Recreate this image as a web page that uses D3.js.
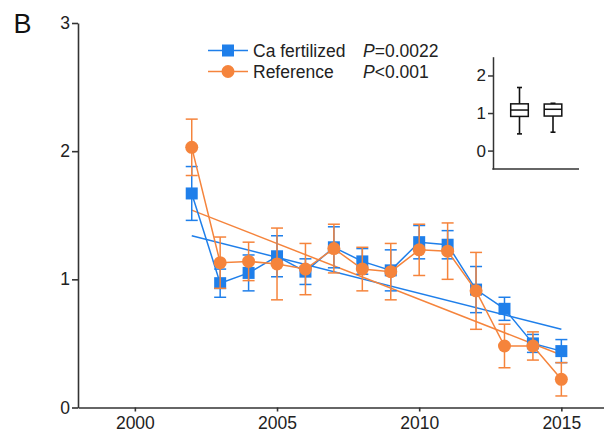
<!DOCTYPE html>
<html><head><meta charset="utf-8">
<script src="https://cdn.jsdelivr.net/npm/d3@7/dist/d3.min.js"></script>
<style>body{margin:0;background:#fff}svg{display:block}</style>
</head><body>
<script>
const years = [2002,2003,2004,2005,2006,2007,2008,2009,2010,2011,2012,2013,2014,2015];
const caMean = [1.67,0.97,1.05,1.18,1.06,1.25,1.14,1.07,1.29,1.27,0.92,0.77,0.50,0.44];
const caErr  = [0.21,0.11,0.14,0.16,0.10,0.16,0.10,0.16,0.13,0.11,0.18,0.09,0.07,0.09];
const refMean = [2.03,1.13,1.14,1.12,1.08,1.24,1.08,1.06,1.23,1.22,0.91,0.48,0.48,0.22];
const refErr  = [0.22,0.20,0.15,0.28,0.20,0.19,0.17,0.22,0.20,0.22,0.30,0.17,0.11,0.13];
const caFit = [1.34, 0.61];   // regression at 2002 and 2015
const refFit = [1.54, 0.41];
const seriesNames = ["Ca fertilized","Reference"];
const pLabels = ["=0.0022","<0.001"];
const xTicks = [2000,2005,2010,2015];
const yTicks = [0,1,2,3];
const insetTicks = [0,1,2];
// box stats: [whiskerLow, q1, median, q3, whiskerHigh]
const caBox = [0.445,0.91,1.08,1.245,1.68];
const refBox = [0.49,0.92,1.10,1.24,1.26];

const W=604,H=433;
const blue="#1f7fea", orange="#f5843c", axisCol="#333";
const font="'Liberation Sans', Arial, sans-serif";
const svg=d3.select("body").append("svg").attr("width",W).attr("height",H)
  .style("font-family",font);

const x=d3.scaleLinear().domain([1998,2016.5]).range([78,604]);
const y=d3.scaleLinear().domain([0,3]).range([407.5,23]);

// axes
const xa=svg.append("g").attr("transform",`translate(0,${y(0)})`)
  .call(d3.axisBottom(x).tickValues(xTicks).tickFormat(d3.format("d")).tickSize(4).tickPadding(5).tickSizeOuter(0));
const ya=svg.append("g").attr("transform",`translate(${x(1998)},0)`)
  .call(d3.axisLeft(y).tickValues(yTicks).tickFormat(d3.format("d")).tickSize(6).tickPadding(2).tickSizeOuter(0));
[xa,ya].forEach(g=>{
  g.selectAll("path,line").attr("stroke",axisCol).attr("stroke-width",1.6);
  g.selectAll("text").attr("font-size",17.5).attr("fill","#222").style("font-family",font);
});

svg.append("text").attr("x",13.5).attr("y",33).attr("font-size",27).attr("fill","#111").text("B");

// regression lines
function fit(vals,col){
  svg.append("line").attr("x1",x(years[0])).attr("y1",y(vals[0]))
    .attr("x2",x(years[years.length-1])).attr("y2",y(vals[1]))
    .attr("stroke",col).attr("stroke-width",1.5);
}
fit(caFit,blue); fit(refFit,orange);

function series(mean,err,col,marker){
  const g=svg.append("g");
  const cap=6;
  years.forEach((yr,i)=>{
    const cx=x(yr);
    g.append("line").attr("x1",cx).attr("x2",cx).attr("y1",y(mean[i]-err[i])).attr("y2",y(mean[i]+err[i]))
      .attr("stroke",col).attr("stroke-width",1.5);
    [mean[i]-err[i],mean[i]+err[i]].forEach(v=>{
      g.append("line").attr("x1",cx-cap).attr("x2",cx+cap).attr("y1",y(v)).attr("y2",y(v))
        .attr("stroke",col).attr("stroke-width",1.5);
    });
  });
  g.append("path").datum(years.map((yr,i)=>[yr,mean[i]]))
    .attr("d",d3.line().x(d=>x(d[0])).y(d=>y(d[1])))
    .attr("fill","none").attr("stroke",col).attr("stroke-width",1.5);
  years.forEach((yr,i)=>{
    if(marker==="square"){
      g.append("rect").attr("x",x(yr)-6).attr("y",y(mean[i])-6).attr("width",12).attr("height",12).attr("fill",col);
    } else {
      g.append("circle").attr("cx",x(yr)).attr("cy",y(mean[i])).attr("r",6.5).attr("fill",col);
    }
  });
}
series(caMean,caErr,blue,"square");
series(refMean,refErr,orange,"circle");

// legend
const legRows=[{col:blue,m:"square",yy:50.5},{col:orange,m:"circle",yy:71.5}];
legRows.forEach((r,i)=>{
  svg.append("line").attr("x1",208).attr("x2",248).attr("y1",r.yy).attr("y2",r.yy).attr("stroke",r.col).attr("stroke-width",1.5);
  if(r.m==="square") svg.append("rect").attr("x",228-6).attr("y",r.yy-6).attr("width",12).attr("height",12).attr("fill",r.col);
  else svg.append("circle").attr("cx",228).attr("cy",r.yy).attr("r",6.5).attr("fill",r.col);
  svg.append("text").attr("x",253).attr("y",r.yy+6.3).attr("font-size",17.5).attr("fill","#222").text(seriesNames[i]);
  const t=svg.append("text").attr("x",363).attr("y",r.yy+6.3).attr("font-size",17.5).attr("fill","#222");
  t.append("tspan").attr("font-style","italic").text("P");
  t.append("tspan").text(pLabels[i]);
});

// inset
const iy=d3.scaleLinear().domain([-0.49,2.5]).range([169,56.7]);
const ixc=d3.scaleLinear().domain([0,1]).range([519.5,553]);
const ig=svg.append("g");
const iya=ig.append("g").attr("transform","translate(493,0)")
  .call(d3.axisLeft(iy).tickValues(insetTicks).tickFormat(d3.format("d")).tickSize(5).tickPadding(2).tickSizeOuter(0));
iya.selectAll("path,line").attr("stroke",axisCol).attr("stroke-width",1.5);
iya.selectAll("text").attr("font-size",17).attr("fill","#222").style("font-family",font);
ig.append("line").attr("x1",492.3).attr("x2",579).attr("y1",iy(-0.49)).attr("y2",iy(-0.49)).attr("stroke",axisCol).attr("stroke-width",1.5);
[caBox,refBox].forEach((b,i)=>{
  const cx=ixc(i), hw=8.8, cw=2.5;
  const s="#111";
  ig.append("line").attr("x1",cx).attr("x2",cx).attr("y1",iy(b[0])).attr("y2",iy(b[4])).attr("stroke",s).attr("stroke-width",1.6);
  [b[0],b[4]].forEach(v=>ig.append("line").attr("x1",cx-cw).attr("x2",cx+cw).attr("y1",iy(v)).attr("y2",iy(v)).attr("stroke",s).attr("stroke-width",1.6));
  ig.append("rect").attr("x",cx-hw).attr("y",iy(b[3])).attr("width",2*hw).attr("height",iy(b[1])-iy(b[3]))
    .attr("fill","#fff").attr("stroke",s).attr("stroke-width",1.5);
  ig.append("line").attr("x1",cx-hw).attr("x2",cx+hw).attr("y1",iy(b[2])).attr("y2",iy(b[2])).attr("stroke",s).attr("stroke-width",1.5);
});
</script>
</body></html>
